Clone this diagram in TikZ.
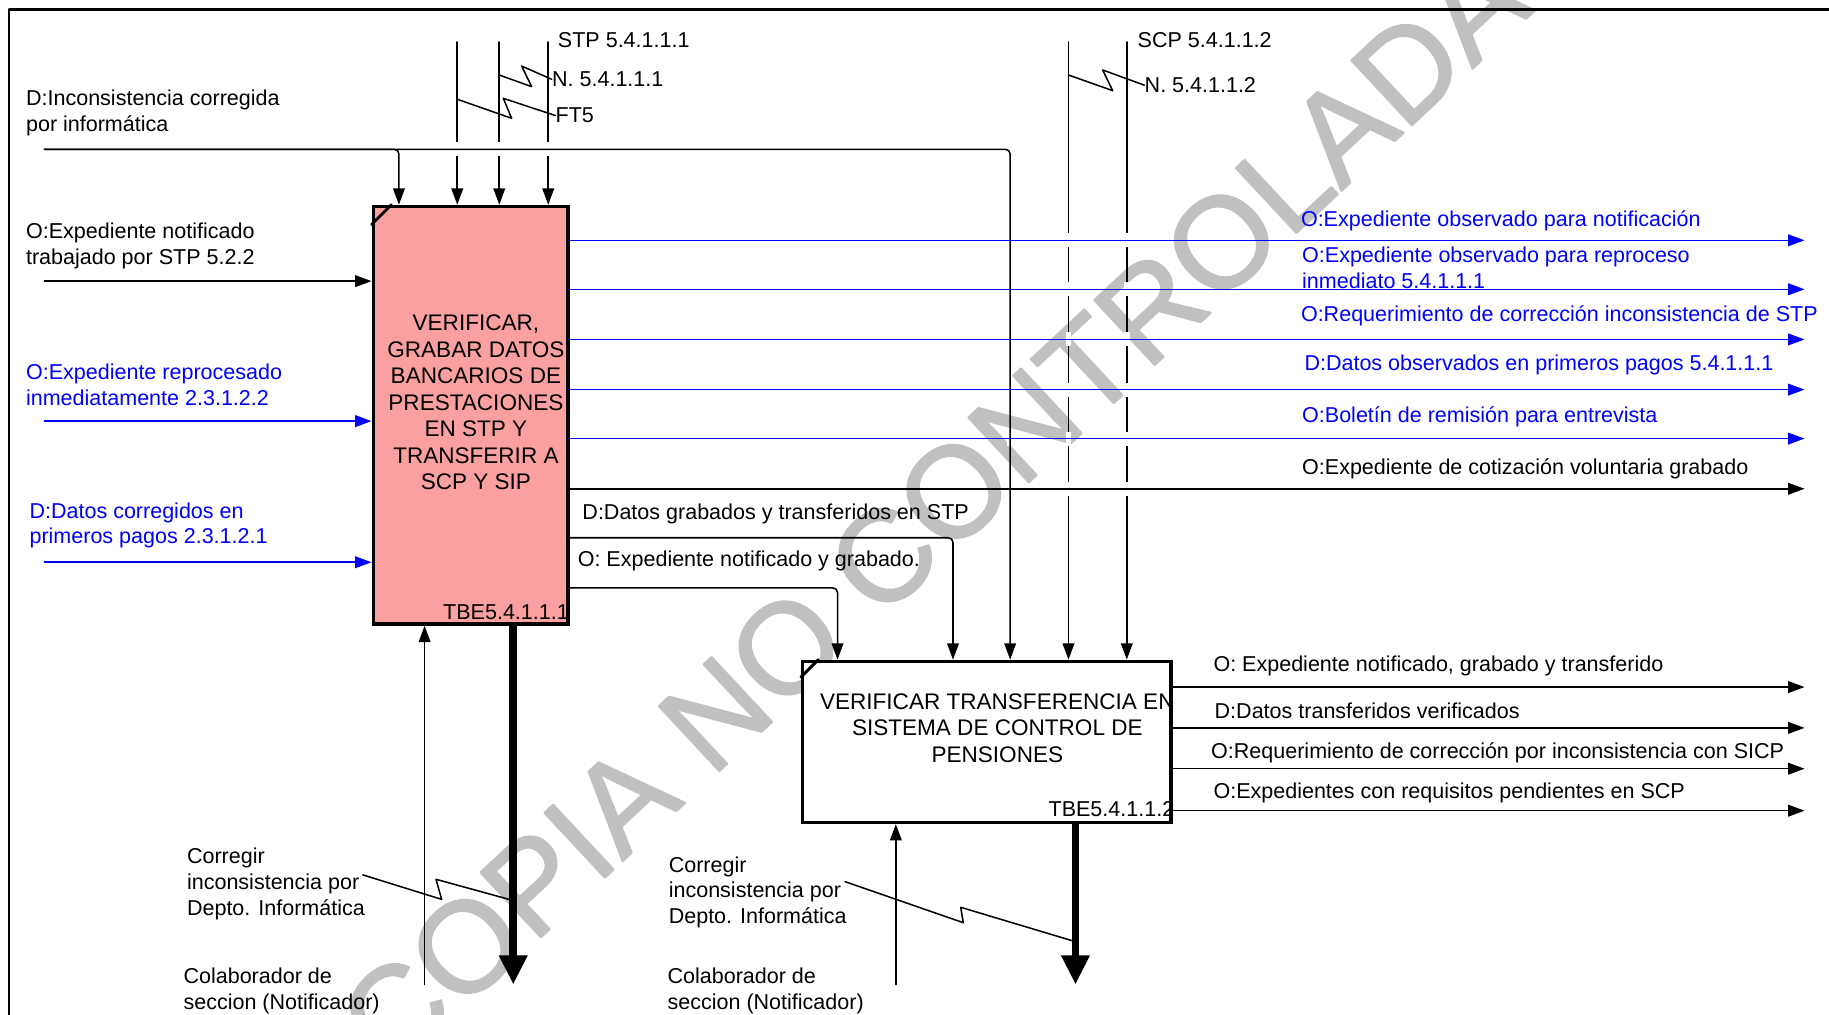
\documentclass[tikz,border=0pt]{standalone}
\usepackage{fontspec}
\setmainfont{Liberation Sans}
\newfontfamily\marcafont{Liberation Sans}[FakeBold=1.5]
\usetikzlibrary{arrows.meta}
\definecolor{pinkbox}{RGB}{250,160,160}
\definecolor{marca}{RGB}{192,192,192}

\begin{document}
\begin{tikzpicture}[line cap=round, line join=round, x=0.02cm, y=-0.02cm,
  txt/.style={font=\fontsize{10.5}{12.6}\selectfont, inner sep=0pt, align=left, anchor=west, yshift=-0.04cm},
  btxt/.style={txt, text=blue},
  boxtxt/.style={font=\fontsize{11}{12.9}\selectfont, inner sep=0pt, align=center},
  proc/.style={draw, line width=0.06cm, line join=miter, inner sep=0pt},
  line/.style={line width=0.026cm},
  flow/.style={line, -{Triangle[length=0.28cm,width=0.2cm]}},
  bflow/.style={flow, blue},
  heavy/.style={line width=0.13cm, line cap=butt, -{Triangle[length=0.5cm,width=0.46cm]}}]

\useasboundingbox (0,0) rectangle (1568,870);
\clip (0,0) rectangle (1568,870);

\node[text=marca, font=\marcafont\fontsize{63}{63}\selectfont, rotate=43] (marca) at (800,438) {COPIA NO CONTROLADA};

\draw[line width=0.04cm] (8,870) -- (8,8) -- (1568,8);

% actividades
\node[proc, fill=pinkbox, minimum width=3.34cm, minimum height=7.16cm] (tbe1) at (403.5,356) {};
\draw[line width=0.05cm] (tbe1.north west) ++(0,17) -- ++(17,-17);
\node[boxtxt] (tbe1txt) at (408,345) {VERIFICAR,\\GRABAR DATOS\\BANCARIOS DE\\PRESTACIONES\\EN STP Y\\TRANSFERIR A\\SCP Y SIP};
\node[txt, anchor=east] (tbe1id) at (488,523) {TBE5.4.1.1.1};

\node[proc, fill=white, minimum width=6.32cm, minimum height=2.76cm] (tbe2) at (846,636) {};
\draw[line width=0.05cm] (tbe2.north west) ++(0,15) -- ++(15,-15);
\node[boxtxt] (tbe2txt) at (855,624) {VERIFICAR TRANSFERENCIA EN\\SISTEMA DE CONTROL DE\\PENSIONES};
\node[txt, anchor=east] (tbe2id) at (1007,692) {TBE5.4.1.1.2};

% controles
\coordinate (ft) at (392,36);
\coordinate (n1) at (428,36);
\coordinate (stp) at (470,36);
\coordinate (n2) at (916,36);
\coordinate (scp) at (966,36);
\foreach \c in {ft,n1,stp} \draw[flow] (\c) -- (\c |- tbe1.north);
\foreach \c in {n2,scp} \draw[flow] (\c) -- (\c |- tbe2.north);

% entradas
\coordinate (i1) at (38,241);
\coordinate (i2) at (38,361);
\coordinate (i3) at (38,482);
\draw[flow] (i1) -- (i1 -| tbe1.west);
\draw[bflow] (i2) -- (i2 -| tbe1.west);
\draw[bflow] (i3) -- (i3 -| tbe1.west);

% mecanismos y llamadas
\coordinate (mec1) at (364,844);
\coordinate (sal1) at (440,844);
\coordinate (mec2) at (768,844);
\coordinate (sal2) at (922,844);
\draw[flow] (mec1) -- (mec1 |- tbe1.south);
\draw[flow] (mec2) -- (mec2 |- tbe2.south);
\draw[heavy] (sal1 |- tbe1.south) -- (sal1);
\draw[heavy] (sal2 |- tbe2.south) -- (sal2);

% cruces
\foreach \xx in {392,428,470} \fill[white] (\xx-2.5,122) rectangle (\xx+2.5,134);
\foreach \yy in {206,248,291,334,376,419}
  \foreach \xx in {866,916,966} \fill[white] (\xx-2.5,\yy-6) rectangle (\xx+2.5,\yy+6);

% flechas horizontales
\coordinate (inc) at (38,128);
\coordinate (c1) at (342,128);
\coordinate (c5) at (866,128);
\draw[flow, rounded corners=0.08cm] (inc) -- (c5) -- (c5 |- tbe2.north);
\draw[flow, rounded corners=0.08cm] (inc) -- (c1) -- (c1 |- tbe1.north);

\coordinate (dg) at (817,461);
\coordinate (eg) at (718,504);
\draw[flow, rounded corners=0.08cm] (tbe1.east |- dg) -- (dg) -- (dg |- tbe2.north);
\draw[flow, rounded corners=0.08cm] (tbe1.east |- eg) -- (eg) -- (eg |- tbe2.north);

\coordinate (o1) at (1547,206);
\coordinate (o2) at (1547,248);
\coordinate (o3) at (1547,291);
\coordinate (o4) at (1547,334);
\coordinate (o5) at (1547,376);
\coordinate (o6) at (1547,419);
\foreach \o in {o1,o2,o3,o4,o5} \draw[bflow] (tbe1.east |- \o) -- (\o);
\draw[flow] (tbe1.east |- o6) -- (o6);

\coordinate (p1) at (1547,589);
\coordinate (p2) at (1547,624);
\coordinate (p3) at (1547,659);
\coordinate (p4) at (1547,695);
\foreach \p in {p1,p2,p3,p4} \draw[flow] (tbe2.east |- \p) -- (\p);

% textos
\node[txt] (stplbl) at (478,32) {STP 5.4.1.1.1};
\node[txt] (n1lbl) at (473,66) {N. 5.4.1.1.1};
\node[txt] (ftlbl) at (476,97) {FT5};
\node[txt] (scplbl) at (975,32) {SCP 5.4.1.1.2};
\node[txt] (n2lbl) at (981,71) {N. 5.4.1.1.2};

\node[txt] (inclbl) at (22,95) {D:Inconsistencia corregida\\por informática};
\node[txt] (i1lbl) at (22,209) {O:Expediente notificado\\trabajado por STP 5.2.2};
\node[btxt] (i2lbl) at (22,328) {O:Expediente reprocesado\\inmediatamente 2.3.1.2.2};
\node[btxt] (i3lbl) at (25,448.5) {D:Datos corregidos en\\primeros pagos 2.3.1.2.1};

\node[btxt] (o1lbl) at (1115,187) {O:Expediente observado para notificación};
\node[btxt] (o2lbl) at (1116,227.5) {O:Expediente observado para reproceso\\inmediato 5.4.1.1.1};
\node[btxt] (o3lbl) at (1115,269) {O:Requerimiento de corrección inconsistencia de STP};
\node[btxt] (o4lbl) at (1118,311) {D:Datos observados en primeros pagos 5.4.1.1.1};
\node[btxt] (o5lbl) at (1116,355) {O:Boletín de remisión para entrevista};
\node[txt] (o6lbl) at (1116,400) {O:Expediente de cotización voluntaria grabado};
\node[txt] (dglbl) at (499,439) {D:Datos grabados y transferidos en STP};
\node[txt] (eglbl) at (495,479) {O: Expediente notificado y grabado.};

\node[txt] (p1lbl) at (1040,569) {O: Expediente notificado, grabado y transferido};
\node[txt] (p2lbl) at (1041,607) {D:Datos transferidos verificados};
\node[txt] (p3lbl) at (1038,643) {O:Requerimiento de corrección por inconsistencia con SICP};
\node[txt] (p4lbl) at (1040,678) {O:Expedientes con requisitos pendientes en SCP};

\node[txt] (corr1) at (160,756) {Corregir\\inconsistencia por\\Depto. Informática};
\node[txt] (col1) at (157,847.5) {Colaborador de\\seccion (Notificador)};
\node[txt] (corr2) at (573,763) {Corregir\\inconsistencia por\\Depto. Informática};
\node[txt] (col2) at (572,847.5) {Colaborador de\\seccion (Notificador)};

% rayos
\draw[line] (428,64.3) -- (455.8,74.3) -- (447.2,56.6) -- (n1lbl.west);
\draw[line] (392,85.1) -- (438.6,101.4) -- (431.5,84.3) -- (ftlbl.west);
\draw[line] (916,64.3) -- (953.9,77.7) -- (945.3,60) -- (n2lbl.west);
\draw[line] (311,750) -- (378.6,771) -- (373.8,753.8) -- (sal1 |- 0,772);
\draw[line] (724.4,755.8) -- (825.8,791) -- (823.6,777.8) -- (sal2 |- 0,807.3);

\end{tikzpicture}
\end{document}
